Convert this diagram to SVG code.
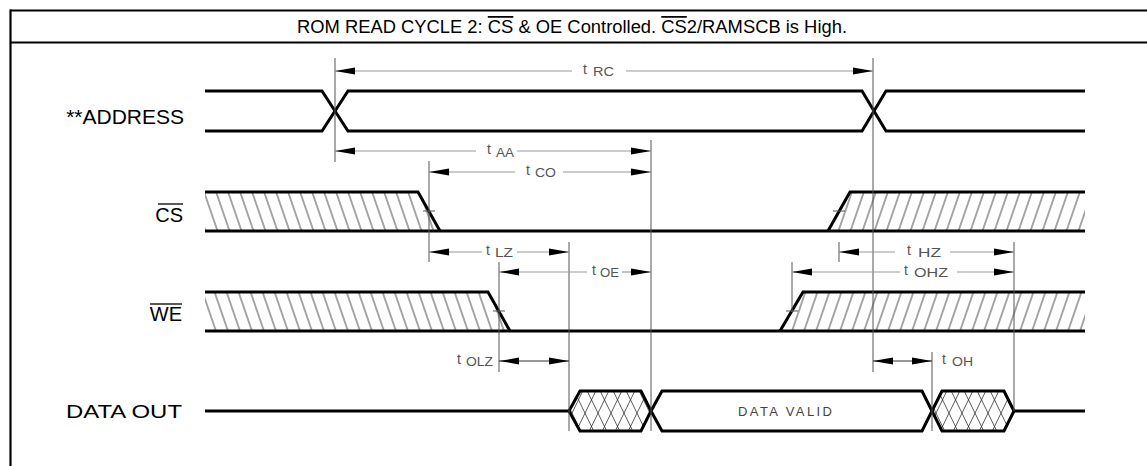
<svg xmlns="http://www.w3.org/2000/svg" width="1147" height="466" viewBox="0 0 1147 466">
<style>
.frame{stroke:#000;stroke-width:2.2;fill:none}
.sig{stroke:#000;stroke-width:3;fill:none;stroke-linejoin:miter}
.ref{stroke:#555;stroke-width:1;fill:none}
.dim{stroke:#999;stroke-width:1.2;fill:none}
.dimk{stroke:#333;stroke-width:1;fill:none}
.lbl{font-family:"Liberation Sans",Arial,sans-serif;fill:#000}
.t{font-family:"Liberation Sans",Arial,sans-serif;fill:#555;font-size:14px}
.s{font-family:"Liberation Sans",Arial,sans-serif;fill:#555;font-size:12px}
.ov{stroke:#000;stroke-width:1.3}
</style>
<defs>
<marker id="ah" viewBox="0 0 20 8" refX="20" refY="4" markerWidth="20" markerHeight="8" markerUnits="userSpaceOnUse" orient="auto">
<path d="M0,0.6 L20,4 L0,7.4 Z" fill="#000"/>
</marker>
<pattern id="hb" patternUnits="userSpaceOnUse" width="12" height="40" patternTransform="skewX(19)">
<line x1="6" y1="-1" x2="6" y2="41" stroke="#111" stroke-width="0.75"/>
</pattern>
<pattern id="hf" patternUnits="userSpaceOnUse" width="12" height="40" patternTransform="skewX(-19)">
<line x1="6" y1="-1" x2="6" y2="41" stroke="#111" stroke-width="0.75"/>
</pattern>
<pattern id="xa" patternUnits="userSpaceOnUse" width="13" height="40" patternTransform="skewX(26)">
<line x1="6.5" y1="-1" x2="6.5" y2="41" stroke="#222" stroke-width="0.7"/>
</pattern>
<pattern id="xb" patternUnits="userSpaceOnUse" width="13" height="40" patternTransform="skewX(-26)">
<line x1="6.5" y1="-1" x2="6.5" y2="41" stroke="#222" stroke-width="0.7"/>
</pattern>
</defs>

<g id="frame">
<line class="frame" x1="10" y1="10.5" x2="1147" y2="10.5"/>
<line class="frame" x1="10" y1="42.5" x2="1147" y2="42.5"/>
<line class="frame" x1="10.5" y1="9.5" x2="10.5" y2="466"/>
</g>

<g id="title">
<text class="lbl" x="297" y="33" font-size="17.5" textLength="550" lengthAdjust="spacingAndGlyphs">ROM READ CYCLE 2:  <tspan text-decoration="overline">CS</tspan> &amp; OE Controlled.  <tspan text-decoration="overline">CS</tspan>2/RAMSCB is High.</text>
</g>

<g id="address">
<text class="lbl" x="184" y="124" font-size="21" text-anchor="end">**ADDRESS</text>
<polyline class="sig" points="205,91 322,91 348,131 862,131 886,91 1085,91"/>
<polyline class="sig" points="205,131 322,131 348,91 862,91 886,131 1085,131"/>
</g>

<g id="cs">
<text class="lbl" x="183" y="222" font-size="20" text-anchor="end">CS</text>
<line class="ov" x1="158" y1="204" x2="183" y2="204"/>
<polygon points="205,192 418,192 440,231 205,231" fill="url(#hb)"/>
<polygon points="828,231 850,192 1085,192 1085,231" fill="url(#hf)"/>
<polyline class="sig" points="205,192 418,192 440,231"/>
<polyline class="sig" points="828,231 850,192 1085,192"/>
<line class="sig" x1="205" y1="231" x2="1085" y2="231"/>
</g>

<g id="we">
<text class="lbl" x="182" y="321" font-size="20" text-anchor="end">WE</text>
<line class="ov" x1="150" y1="304" x2="182" y2="304"/>
<polygon points="205,292 488,292 510,331 205,331" fill="url(#hb)"/>
<polygon points="780,331 803,292 1085,292 1085,331" fill="url(#hf)"/>
<polyline class="sig" points="205,292 488,292 510,331"/>
<polyline class="sig" points="780,331 803,292 1085,292"/>
<line class="sig" x1="205" y1="331" x2="1085" y2="331"/>
</g>

<g id="dataout">
<text class="lbl" x="182" y="418" font-size="19" text-anchor="end" textLength="116" lengthAdjust="spacingAndGlyphs">DATA OUT</text>
<line class="sig" x1="205" y1="411" x2="569" y2="411"/>
<polygon points="569,411 580,391 641,391 651,411 641,431 580,431" fill="url(#xa)"/>
<polygon points="569,411 580,391 641,391 651,411 641,431 580,431" fill="url(#xb)"/>
<polygon class="sig" points="569,411 580,391 641,391 651,411 641,431 580,431"/>
<polygon class="sig" points="651,411 662,391 922,391 932,411 922,431 662,431"/>
<text x="785" y="416" font-family="'Liberation Sans',Arial,sans-serif" font-size="13" fill="#444" text-anchor="middle" textLength="94" lengthAdjust="spacing">DATA  VALID</text>
<polygon points="932,411 942,391 1004,391 1014,411 1004,431 942,431" fill="url(#xa)"/>
<polygon points="932,411 942,391 1004,391 1014,411 1004,431 942,431" fill="url(#xb)"/>
<polygon class="sig" points="932,411 942,391 1004,391 1014,411 1004,431 942,431"/>
<line class="sig" x1="1014" y1="411" x2="1085" y2="411"/>
</g>

<g id="connectors">
<line class="ref" x1="335" y1="58" x2="335" y2="162"/>
<line class="ref" x1="873" y1="58" x2="873" y2="372"/>
<line class="ref" x1="651" y1="140" x2="651" y2="431"/>
<line class="ref" x1="429" y1="161" x2="429" y2="262"/>
<line class="ref" x1="569" y1="242" x2="569" y2="431"/>
<line class="ref" x1="499" y1="262" x2="499" y2="372"/>
<line class="ref" x1="839" y1="242" x2="839" y2="262"/>
<line class="ref" x1="792" y1="262" x2="792" y2="312"/>
<line class="ref" x1="1014" y1="242" x2="1014" y2="411"/>
<line class="ref" x1="932" y1="352" x2="932" y2="431"/>
<line class="ref" x1="423" y1="211" x2="435" y2="211"/>
<line class="ref" x1="493" y1="311" x2="505" y2="311"/>
<line class="ref" x1="786" y1="311" x2="798" y2="311"/>
<line class="ref" x1="833" y1="211" x2="845" y2="211"/>

<line class="dim" x1="572" y1="71" x2="335" y2="71" marker-end="url(#ah)"/>
<line class="dim" x1="626" y1="71" x2="873" y2="71" marker-end="url(#ah)"/>
<line class="dim" x1="476" y1="151" x2="335" y2="151" marker-end="url(#ah)"/>
<line class="dim" x1="517" y1="151" x2="651" y2="151" marker-end="url(#ah)"/>
<line class="dim" x1="515" y1="172" x2="429" y2="172" marker-end="url(#ah)"/>
<line class="dim" x1="563" y1="172" x2="651" y2="172" marker-end="url(#ah)"/>
<line class="dim" x1="482" y1="252" x2="429" y2="252" marker-end="url(#ah)"/>
<line class="dim" x1="517" y1="252" x2="569" y2="252" marker-end="url(#ah)"/>
<line class="dim" x1="587" y1="272" x2="499" y2="272" marker-end="url(#ah)"/>
<line class="dim" x1="622" y1="272" x2="651" y2="272" marker-end="url(#ah)"/>
<line class="dim" x1="895" y1="252" x2="839" y2="252" marker-end="url(#ah)"/>
<line class="dim" x1="950" y1="252" x2="1014" y2="252" marker-end="url(#ah)"/>
<line class="dim" x1="900" y1="272" x2="792" y2="272" marker-end="url(#ah)"/>
<line class="dim" x1="957" y1="272" x2="1014" y2="272" marker-end="url(#ah)"/>
<line class="dimk" x1="534" y1="361" x2="499" y2="361" marker-end="url(#ah)"/>
<line class="dimk" x1="534" y1="361" x2="569" y2="361" marker-end="url(#ah)"/>
<line class="dimk" x1="902" y1="361" x2="873" y2="361" marker-end="url(#ah)"/>
<line class="dimk" x1="902" y1="361" x2="932" y2="361" marker-end="url(#ah)"/>
</g>

<g id="timing-labels">
<text class="t" x="583" y="74">t</text><text class="s" x="593" y="76" textLength="21" lengthAdjust="spacingAndGlyphs">RC</text>
<text class="t" x="487" y="154">t</text><text class="s" x="496" y="157" textLength="18" lengthAdjust="spacingAndGlyphs">AA</text>
<text class="t" x="526" y="175">t</text><text class="s" x="535" y="177" textLength="21" lengthAdjust="spacingAndGlyphs">CO</text>
<text class="t" x="486" y="255">t</text><text class="s" x="495" y="257" textLength="18" lengthAdjust="spacingAndGlyphs">LZ</text>
<text class="t" x="592" y="275">t</text><text class="s" x="600" y="277" textLength="19" lengthAdjust="spacingAndGlyphs">OE</text>
<text class="t" x="907" y="255">t</text><text class="s" x="918" y="257" textLength="23" lengthAdjust="spacingAndGlyphs">HZ</text>
<text class="t" x="904" y="275">t</text><text class="s" x="914" y="277" textLength="34" lengthAdjust="spacingAndGlyphs">OHZ</text>
<text class="t" x="457" y="364">t</text><text class="s" x="466" y="366" textLength="27" lengthAdjust="spacingAndGlyphs">OLZ</text>
<text class="t" x="942" y="364">t</text><text class="s" x="952" y="366" textLength="21" lengthAdjust="spacingAndGlyphs">OH</text>
</g>
</svg>
